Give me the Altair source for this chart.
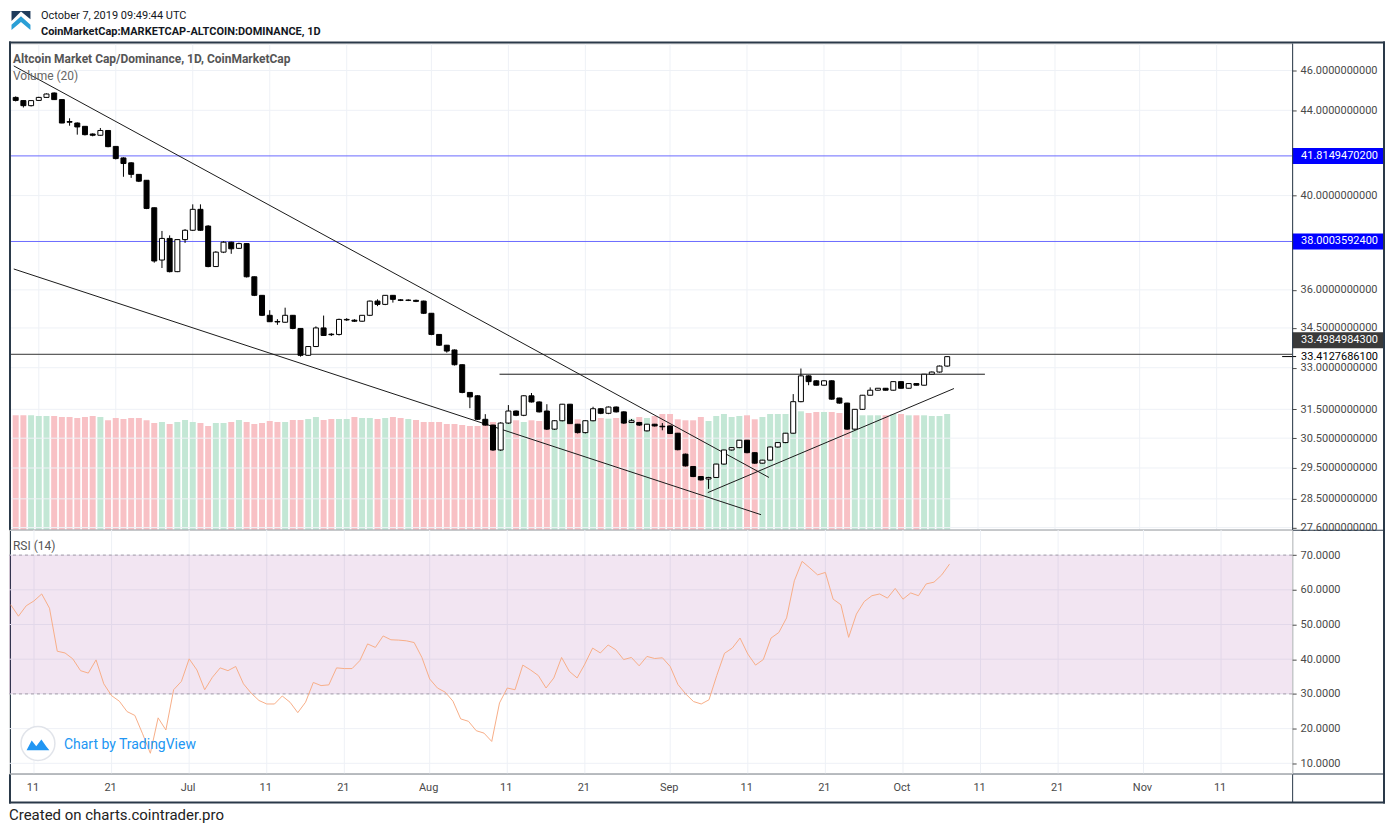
import altair as alt
import pandas as pd

# ---------------- data ----------------
dates = pd.date_range("2019-06-08", periods=122, freq="D").strftime("%Y-%m-%d").tolist()

opens = [44.64, 44.48, 44.23, 44.49, 44.64, 44.86, 44.53, 43.45, 43.38, 43.22,
         42.85, 42.79, 43.02, 42.26, 41.72, 41.49, 40.96, 40.69, 39.46, 37.22,
         38.13, 36.74, 38.08, 38.48, 39.39, 38.66, 36.95, 37.55, 37.97, 37.71,
         37.91, 36.53, 35.78, 34.99, 34.75, 34.72, 34.99, 34.48, 33.46, 33.79,
         34.50, 34.26, 34.25, 34.81, 34.80, 34.76, 34.99, 35.55, 35.42, 35.78,
         35.60, 35.58, 35.58, 35.55, 35.07, 34.25, 33.84, 33.66, 33.11, 32.10,
         31.98, 31.15, 30.95, 30.10, 31.02, 31.44, 31.29, 31.98, 31.76, 31.44,
         30.81, 31.10, 31.68, 30.98, 30.69, 31.10, 31.52, 31.36, 31.58, 31.41,
         31.04, 31.04, 30.75, 30.98, 30.91, 30.92, 30.67, 29.96, 29.55, 29.22,
         29.14, 29.19, 29.63, 30.10, 30.18, 30.43, 30.01, 29.66, 29.76, 30.20,
         30.35, 30.67, 31.77, 32.70, 32.52, 32.36, 32.52, 31.90, 31.72, 30.81,
         31.50, 32.00, 32.18, 32.25, 32.18, 32.49, 32.25, 32.42, 32.36, 32.76,
         32.84, 33.06]
highs = [44.69, 44.49, 44.49, 44.67, 44.84, 44.89, 44.55, 43.61, 43.41, 43.22,
         42.88, 43.14, 43.03, 42.26, 41.75, 41.52, 40.97, 40.69, 39.47, 38.45,
         38.26, 38.09, 38.53, 39.61, 39.61, 38.70, 37.59, 38.01, 37.99, 37.95,
         37.93, 36.54, 35.79, 35.19, 34.84, 35.29, 35.00, 34.49, 33.81, 34.56,
         34.98, 34.30, 34.86, 34.88, 34.84, 35.00, 35.57, 35.62, 35.79, 35.79,
         35.63, 35.62, 35.61, 35.57, 35.08, 34.26, 33.85, 33.68, 33.12, 32.11,
         32.00, 31.33, 30.96, 31.05, 31.65, 31.46, 32.00, 32.08, 31.78, 31.68,
         31.12, 31.69, 31.69, 30.99, 31.12, 31.59, 31.54, 31.60, 31.60, 31.43,
         31.16, 31.06, 30.99, 30.99, 31.02, 30.94, 30.68, 29.98, 29.56, 29.23,
         29.21, 29.64, 30.11, 30.20, 30.44, 30.44, 30.02, 29.77, 30.22, 30.36,
         30.68, 32.04, 32.97, 32.72, 32.54, 32.54, 32.54, 31.91, 31.73, 31.51,
         32.01, 32.28, 32.26, 32.26, 32.50, 32.50, 32.43, 32.43, 32.77, 32.86,
         33.08, 33.42]
lows = [44.44, 44.14, 44.19, 44.47, 44.62, 44.52, 43.37, 43.25, 42.82, 42.78,
        42.74, 42.77, 42.22, 41.65, 40.85, 40.80, 40.61, 39.40, 37.11, 36.89,
        36.71, 36.72, 37.94, 38.45, 38.45, 36.92, 36.93, 37.51, 37.48, 37.68,
        36.50, 35.75, 34.96, 34.73, 34.62, 34.70, 34.45, 33.41, 33.44, 33.77,
        34.19, 34.19, 34.21, 34.77, 34.73, 34.74, 34.96, 35.35, 35.39, 35.49,
        35.55, 35.55, 35.51, 35.04, 34.22, 33.81, 33.56, 33.08, 32.07, 31.54,
        31.13, 30.93, 30.07, 30.07, 30.99, 31.26, 31.26, 31.74, 31.39, 30.78,
        30.78, 31.08, 30.99, 30.66, 30.66, 31.08, 31.33, 31.33, 31.39, 30.99,
        31.02, 30.92, 30.73, 30.90, 30.77, 30.64, 30.09, 29.55, 29.20, 29.09,
        28.82, 29.18, 29.61, 30.08, 30.16, 29.99, 29.64, 29.65, 29.75, 30.18,
        30.33, 30.66, 31.75, 32.36, 32.35, 32.35, 31.84, 31.70, 30.79, 30.79,
        31.48, 31.99, 32.17, 32.17, 32.17, 32.24, 32.24, 32.35, 32.35, 32.75,
        32.82, 33.04]
closes = [44.49, 44.23, 44.48, 44.64, 44.81, 44.53, 43.38, 43.42, 43.19, 42.82,
          42.79, 43.02, 42.25, 41.69, 41.46, 40.96, 40.65, 39.43, 37.18, 38.13,
          36.74, 38.08, 38.48, 39.39, 38.48, 36.95, 37.55, 37.97, 37.69, 37.91,
          36.53, 35.78, 34.99, 34.74, 34.73, 34.99, 34.48, 33.46, 33.79, 34.50,
          34.21, 34.24, 34.83, 34.83, 34.76, 34.99, 35.55, 35.42, 35.78, 35.62,
          35.58, 35.59, 35.54, 35.07, 34.25, 33.84, 33.62, 33.11, 32.10, 31.94,
          31.15, 30.95, 30.10, 31.02, 31.44, 31.29, 31.98, 31.76, 31.41, 30.81,
          31.10, 31.68, 31.00, 30.69, 31.10, 31.52, 31.36, 31.58, 31.41, 31.02,
          31.10, 30.95, 30.98, 30.92, 30.89, 30.66, 30.11, 29.57, 29.22, 29.11,
          29.19, 29.63, 30.10, 30.18, 30.43, 30.01, 29.66, 29.76, 30.20, 30.35,
          30.67, 31.77, 32.70, 32.49, 32.36, 32.52, 31.86, 31.72, 30.81, 31.50,
          32.00, 32.18, 32.25, 32.18, 32.49, 32.25, 32.42, 32.36, 32.76, 32.84,
          33.06, 33.41]
volumes = [114.7, 114.7, 114.7, 114, 114, 114, 113, 113, 112, 113,
           114, 113, 109.7, 112, 111, 112, 112, 109.7, 107, 108,
           106, 108, 110, 108, 107, 104, 107, 107, 108, 110,
           108, 106, 107, 109, 108, 108, 110, 110, 111, 113,
           110, 111, 111, 111, 113, 112, 112, 111, 112, 113,
           112, 111, 110, 108, 108, 108, 106, 106, 105, 104,
           104, 107.3, 108, 105.3, 110.7, 109.7, 108, 109.7, 109, 109,
           108, 113, 114.7, 110.7, 109.7, 113, 112, 111.3, 112, 113,
           111.3, 113, 112, 114, 116, 116, 110.7, 109.7, 109.7, 113,
           109, 114, 116, 113, 114, 114.7, 110.7, 113, 116, 116,
           116, 120, 118.7, 117, 118, 118, 118, 117, 116, 113,
           114.7, 114.7, 114.7, 114.7, 116, 116, 114.7, 114.7, 114.7, 114,
           114, 116]
rsi_values = [55.7, 52.4, 55.4, 56.8, 58.8, 54.7, 42.3, 41.8, 40.1, 36.7,
              36.0, 39.8, 32.9, 29.5, 27.9, 24.9, 23.8, 18.5, 12.9, 23.1,
              19.6, 31.2, 33.6, 40.1, 36.9, 31.2, 34.8, 37.5, 36.7, 37.9,
              32.9, 30.2, 28.1, 27.1, 27.1, 29.4, 27.6, 24.6, 27.6, 33.3,
              32.4, 32.6, 37.5, 37.3, 37.3, 39.6, 44.4, 43.4, 46.7, 45.6,
              45.5, 45.3, 44.8, 40.5, 34.3, 31.7, 30.5, 27.9, 22.8, 22.1,
              19.4, 18.7, 16.3, 27.4, 31.7, 31.2, 38.3, 36.9, 35.3, 31.7,
              34.6, 40.5, 36.5, 34.6, 38.6, 43.2, 41.8, 44.1, 42.7, 39.9,
              40.5, 38.1, 40.8, 40.2, 40.4, 37.9, 32.7, 30.0, 27.8, 27.1,
              28.3, 35.3, 41.7, 43.2, 46.1, 41.5, 38.3, 39.9, 46.1, 47.7,
              51.9, 62.6, 68.2, 66.3, 64.3, 65.0, 57.3, 55.7, 46.3, 53.0,
              56.6, 58.3, 58.8, 57.6, 60.4, 57.3, 59.1, 58.3, 61.7, 62.2,
              64.3, 67.4]

# drawn trend lines: start time, start price, end time, end price
trend_x1 = ["2019-06-07T18:00:00Z", "2019-06-07T18:00:00Z", "2019-08-09T20:24:00Z", "2019-09-05T21:36:00Z"]
trend_y1 = [46.24, 36.85, 32.76, 28.70]
trend_x2 = ["2019-09-13T20:24:00Z", "2019-09-12T19:41:00Z", "2019-10-11T21:36:00Z", "2019-10-07T21:07:00Z"]
trend_y2 = [29.19, 28.00, 32.76, 32.24]

# horizontal levels
blue_levels = [41.8149470200, 38.0003592400]
black_level = 33.4984984300
last_price = 33.4127686100

price_ticks = [46, 44, 40, 36, 34.5, 33, 31.5, 30.5, 29.5, 28.5, 27.6]
rsi_ticks = [10, 20, 30, 40, 50, 60, 70]
tick_days = [(6, 11), (6, 21), (7, 1), (7, 11), (7, 21), (8, 1), (8, 11), (8, 21),
             (9, 1), (9, 11), (9, 21), (10, 1), (10, 11), (10, 21), (11, 1), (11, 11)]

# ---------------- tables ----------------
df = pd.DataFrame({"date": dates, "open": opens, "high": highs, "low": lows,
                   "close": closes, "vol": volumes, "rsi": rsi_values})
df["dir"] = ["up" if c >= o else "down" for o, c in zip(opens, closes)]
trend_df = pd.DataFrame({"x1": trend_x1, "y1": trend_y1, "x2": trend_x2, "y2": trend_y2})
blue_df = pd.DataFrame({"price": blue_levels, "label": [f"{v:.10f}" for v in blue_levels]})
black_df = pd.DataFrame({"price": [black_level], "label": [f"{black_level:.10f}"]})
last_df = pd.DataFrame({"price": [last_price], "label": [f"{last_price:.10f}"]})
tick_df = pd.DataFrame({"d": [f"2019-{m:02d}-{d:02d}" for m, d in tick_days]})
ptick_df = pd.DataFrame({"p": price_ticks})
rtick_df = pd.DataFrame({"r": rsi_ticks})
one = pd.DataFrame({"a": [0]})

# ---------------- styling ----------------
FONT = "Roboto"
W = 1285
H_MAIN = 487
H_RSI = 244
RIGHT = 1378
GRID = "#eef1f6"
FRAME = "#2a3949"
TXT = "#4a4a4a"
UP_VOL = "#c3e7d5"
DN_VOL = "#f8c1c5"

xdomain = [alt.DateTime(year=2019, month=6, date=7, hours=18, minutes=43, utc=True),
           alt.DateTime(year=2019, month=11, date=20, hours=3, minutes=50, utc=True)]
xscale = alt.Scale(type="utc", domain=xdomain)
tick_vals = [alt.DateTime(year=2019, month=m, date=d, utc=True) for m, d in tick_days]

main_xaxis = alt.Axis(values=tick_vals, grid=False, labels=False, ticks=False, domain=False)
x_main = alt.X("date:T", scale=xscale, title=None, axis=main_xaxis)

yscale = alt.Scale(type="log", domain=[27.53, 47.41], nice=False, zero=False)
yaxis = alt.Axis(orient="right", values=price_ticks, format=".10f", grid=False,
                 domain=False, tickSize=4, tickColor=TXT, labelColor=TXT, labelFont=FONT,
                 labelFontSize=11, labelPadding=4, labelOverlap=False, title=None)


def pix_box(x1, x2, y1, y2, color=FRAME):
    return alt.Chart(one).mark_rect(color=color).encode(
        x=alt.value(x1), x2=alt.value(x2), y=alt.value(y1), y2=alt.value(y2))


def pix_text(txt, x, y, size=12, weight="normal", color=TXT, align="left"):
    return alt.Chart(one).mark_text(font=FONT, fontSize=size, fontWeight=weight, color=color,
                                    align=align, baseline="middle").encode(
        x=alt.value(x), y=alt.value(y), text=alt.value(txt))


# ---------------- main panel ----------------
vgrid_main = alt.Chart(tick_df).mark_rule(color=GRID, strokeWidth=1, clip=True).encode(
    x=alt.X("d:T", scale=xscale, title=None, axis=main_xaxis))
hgrid_main = alt.Chart(ptick_df).mark_rule(color=GRID, strokeWidth=1, clip=True).encode(
    y=alt.Y("p:Q", scale=yscale, axis=yaxis))

vol = alt.Chart(df).mark_bar(size=6, clip=True).encode(
    x=x_main,
    y=alt.Y("vol:Q", scale=alt.Scale(domain=[0, H_MAIN], nice=False), axis=None),
    color=alt.Color("dir:N", scale=alt.Scale(domain=["up", "down"], range=[UP_VOL, DN_VOL]), legend=None),
)

wick = alt.Chart(df).mark_rule(color="#000000", strokeWidth=1, clip=True).encode(
    x=x_main, y=alt.Y("low:Q", scale=yscale, axis=yaxis), y2="high:Q")
body = alt.Chart(df).mark_bar(size=5, stroke="#000000", strokeWidth=1, clip=True).encode(
    x=x_main, y=alt.Y("open:Q", scale=yscale, axis=yaxis), y2="close:Q",
    fill=alt.condition("datum.close >= datum.open", alt.value("#ffffff"), alt.value("#000000")))

blue_lines = alt.Chart(blue_df).mark_rule(color="#6a6aff", strokeWidth=1, clip=True).encode(
    y=alt.Y("price:Q", scale=yscale, axis=yaxis))
black_line = alt.Chart(black_df).mark_rule(color="#333333", strokeWidth=1, clip=True).encode(
    y=alt.Y("price:Q", scale=yscale, axis=yaxis))
trend = alt.Chart(trend_df).mark_rule(color="#1a1a1a", strokeWidth=1, clip=True).encode(
    x=alt.X("x1:T", scale=xscale, title=None, axis=main_xaxis), x2="x2:T",
    y=alt.Y("y1:Q", scale=yscale, axis=yaxis), y2="y2:Q")

blue_box = alt.Chart(blue_df).mark_rect(color="#0000ff", yOffset=-8, y2Offset=8).encode(
    x=alt.value(W), x2=alt.value(W + 91),
    y=alt.Y("price:Q", scale=yscale, axis=yaxis), y2=alt.Y2("price:Q"))
blue_txt = alt.Chart(blue_df).mark_text(font=FONT, fontSize=11, color="#ffffff", align="left",
                                        baseline="middle", dx=9).encode(
    x=alt.value(W), y=alt.Y("price:Q", scale=yscale, axis=yaxis), text="label:N")
black_box = alt.Chart(black_df).mark_rect(color="#3a3a3a", yOffset=-22, y2Offset=-6).encode(
    x=alt.value(W), x2=alt.value(W + 91),
    y=alt.Y("price:Q", scale=yscale, axis=yaxis), y2=alt.Y2("price:Q"))
black_txt = alt.Chart(black_df).mark_text(font=FONT, fontSize=11, color="#ffffff", align="left",
                                          baseline="middle", dx=9, dy=-14).encode(
    x=alt.value(W), y=alt.Y("price:Q", scale=yscale, axis=yaxis), text="label:N")
last_tick = alt.Chart(last_df).mark_rule(color="#000000", strokeWidth=1).encode(
    x=alt.value(W - 10), x2=alt.value(W + 4), y=alt.Y("price:Q", scale=yscale, axis=yaxis))
last_txt = alt.Chart(last_df).mark_text(font=FONT, fontSize=11, color="#000000",
                                        align="left", baseline="middle", dx=9).encode(
    x=alt.value(W), y=alt.Y("price:Q", scale=yscale, axis=yaxis), text="label:N")

# header, logo, panel captions, footer and frame
logo_top = alt.Chart(one).mark_point(
    shape="M-1,-1L1,-1L1,-0.15L0,-0.95L-1,0.05Z", filled=True, color="#1f3c5c", size=360, opacity=1
).encode(x=alt.value(12), y=alt.value(-23))
logo_bot = alt.Chart(one).mark_point(
    shape="M-1,1L-1,0.45L0,-0.45L1,0.45L1,1L0,0.15Z", filled=True, color="#2a9fd6", size=360, opacity=1
).encode(x=alt.value(12), y=alt.value(-23))

header1 = pix_text("October 7, 2019 09:49:44 UTC", 32, -28, 11, "normal", "#131722")
header2 = pix_text("CoinMarketCap:MARKETCAP-ALTCOIN:DOMINANCE, 1D", 32, -12, 11, "bold", "#131722")
cap1 = pix_text("Altcoin Market Cap/Dominance, 1D, CoinMarketCap", 4, 15, 12, "bold", "#555555")
cap2 = pix_text("Volume (20)", 4, 33, 12, "normal", "#666666")
footer = pix_text("Created on charts.cointrader.pro", 0, 773, 15, "normal", "#222222")

frame = [
    pix_box(0, RIGHT, -2, 0),                       # top
    pix_box(0, 2, -2, 761),                         # left
    pix_box(RIGHT - 2, RIGHT, -2, 761),             # right
    pix_box(0, RIGHT, 759, 761),                    # bottom
    pix_box(W, W + 1, 0, 760),                      # price-scale separator
    pix_box(0, RIGHT, H_MAIN, H_MAIN + 1),          # panel separator
    pix_box(0, RIGHT, H_MAIN + H_RSI, H_MAIN + H_RSI + 1),  # time-axis separator
]

price_layer = alt.layer(hgrid_main, blue_lines, black_line, trend, wick, body, blue_box, blue_txt,
                        black_box, black_txt, last_tick, last_txt)
main = alt.layer(vgrid_main, vol, price_layer, logo_top, logo_bot, header1, header2, cap1, cap2,
                 footer, *frame).resolve_scale(y="independent").properties(width=W, height=H_MAIN)

# ---------------- RSI panel ----------------
rsi_scale = alt.Scale(domain=[7.07, 77.28], nice=False, zero=False)
rsi_axis = alt.Axis(orient="right", values=rsi_ticks, format=".4f", grid=False,
                    domain=False, tickSize=4, tickColor=TXT, labelColor=TXT, labelFont=FONT,
                    labelFontSize=11, labelPadding=4, title=None)
rsi_xaxis = alt.Axis(values=tick_vals, grid=False, ticks=False, domain=False,
                     labelFont=FONT, labelFontSize=11, labelColor=TXT, labelPadding=8,
                     labelOffset=-1.5,
                     labelExpr="utcFormat(datum.value, '%d') == '01' ? utcFormat(datum.value, '%b') : utcFormat(datum.value, '%d')")
x_rsi = alt.X("date:T", scale=xscale, title=None, axis=rsi_xaxis)

vgrid_rsi = alt.Chart(tick_df).mark_rule(color=GRID, strokeWidth=1, clip=True).encode(
    x=alt.X("d:T", scale=xscale, title=None, axis=rsi_xaxis))
hgrid_rsi = alt.Chart(rtick_df).mark_rule(color=GRID, strokeWidth=1, clip=True).encode(
    y=alt.Y("r:Q", scale=rsi_scale, axis=rsi_axis))
band_df = pd.DataFrame({"hi": [70], "lo": [30]})
band = alt.Chart(band_df).mark_rect(color="#800080", opacity=0.1).encode(
    x=alt.value(0), x2=alt.value(W), y=alt.Y("hi:Q", scale=rsi_scale, axis=rsi_axis), y2="lo:Q")
lvl_df = pd.DataFrame({"v": [70, 30]})
levels = alt.Chart(lvl_df).mark_rule(color="#a39ca8", strokeDash=[3, 3], strokeWidth=1, clip=True).encode(
    y=alt.Y("v:Q", scale=rsi_scale, axis=rsi_axis))
rsi_line = alt.Chart(df).mark_line(color="#f7ae88", strokeWidth=1, clip=True).encode(
    x=x_rsi, y=alt.Y("rsi:Q", scale=rsi_scale, axis=rsi_axis))

rsi_cap = pix_text("RSI (14)", 4, 16, 12, "normal", "#555555")
wm_circle = alt.Chart(one).mark_point(shape="circle", filled=True, color="#ffffff", size=1150,
                                      stroke="#e1e4ea", strokeWidth=1.5, opacity=1).encode(
    x=alt.value(29), y=alt.value(214))
wm_icon = alt.Chart(one).mark_point(
    shape="M-1,0.5L-0.55,-0.35L-0.15,0.15L0.3,-0.45L0.75,0.2L1,0.5Z", filled=True,
    color="#2196f3", size=520, opacity=1).encode(x=alt.value(29), y=alt.value(215))
wm_text = pix_text("Chart by TradingView", 55, 215, 14, "normal", "#2196f3")

rsi = alt.layer(vgrid_rsi, hgrid_rsi, band, levels, rsi_line, rsi_cap, wm_circle, wm_icon,
                wm_text).properties(width=W, height=H_RSI)

chart = alt.vconcat(main, rsi, spacing=0).properties(bounds="flush", padding=0).configure_view(
    stroke=None).configure(font=FONT)

chart.save("out.html", embed_options={"renderer": "svg", "actions": False})
